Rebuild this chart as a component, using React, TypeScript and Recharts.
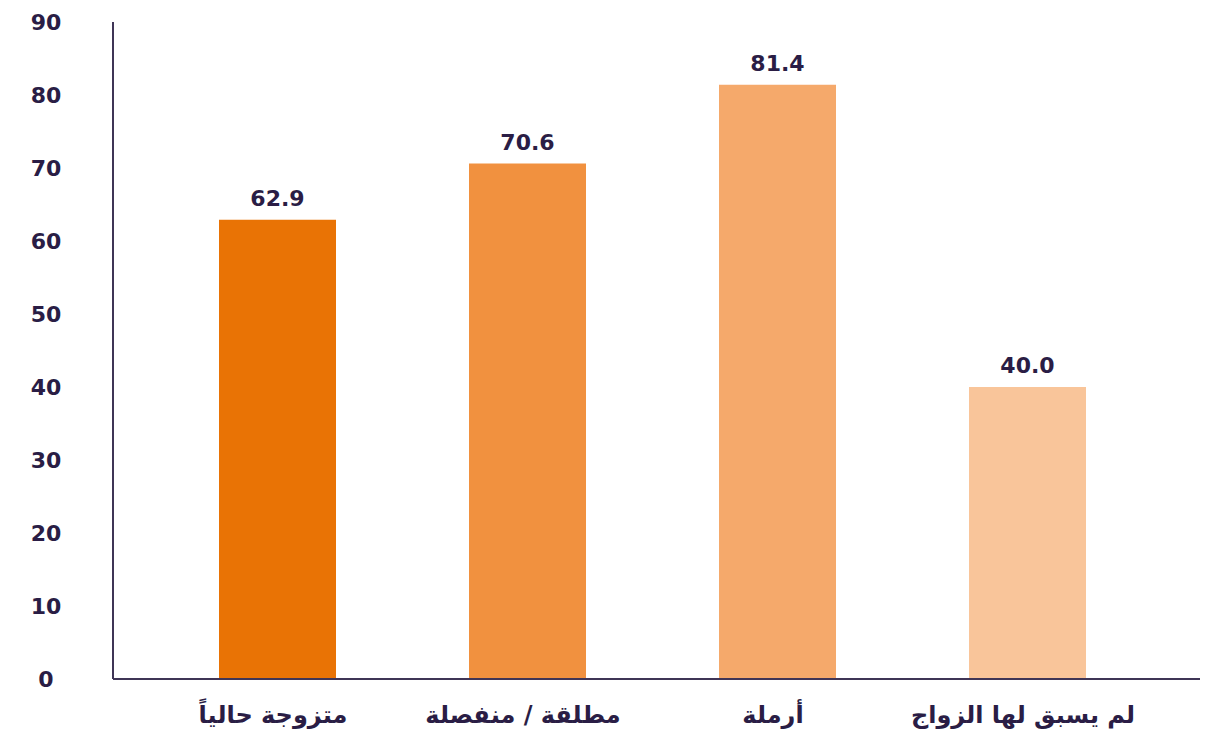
import { BarChart, Bar, XAxis, YAxis, Cell, LabelList } from 'recharts'

const categories = ['متزوجة حالياً', 'مطلقة / منفصلة', 'أرملة', 'لم يسبق لها الزواج']
const values = [62.9, 70.6, 81.4, 40.0]
const barColors = ['#E97305', '#F1913F', '#F5A96B', '#F9C59A']
const yTicks = [0, 10, 20, 30, 40, 50, 60, 70, 80, 90]

const data = categories.map((name, i) => ({ name, value: values[i] }))

const ink = '#2A1D45'
const font = '"DejaVu Sans", sans-serif'

function YTick({ y, payload }: any) {
  return (
    <text
      x={46}
      y={y}
      dy={8}
      textAnchor="middle"
      fill={ink}
      fontFamily={font}
      fontWeight="bold"
      fontSize={22}
    >
      {payload.value}
    </text>
  )
}

function XTick({ x, y, payload }: any) {
  return (
    <text
      x={x - 4}
      y={y}
      dy={36}
      textAnchor="middle"
      fill={ink}
      fontFamily={font}
      fontWeight="bold"
      fontSize={24}
    >
      {payload.value}
    </text>
  )
}

export default function App() {
  return (
    <div style={{ position: 'absolute', left: 0, top: 0, background: '#fff' }}>
      <BarChart
        width={1214}
        height={740}
        data={data}
        margin={{ top: 22, right: 14, left: 0, bottom: 0 }}
      >
        <XAxis
          dataKey="name"
          height={61}
          tickLine={false}
          axisLine={{ stroke: '#3F3556', strokeWidth: 2 }}
          padding={{ left: 39, right: 48 }}
          tick={<XTick />}
          interval={0}
        />
        <YAxis
          width={113}
          domain={[0, 90]}
          ticks={yTicks}
          tickLine={false}
          axisLine={{ stroke: '#3F3556', strokeWidth: 2 }}
          tick={<YTick />}
          interval={0}
        />
        <Bar dataKey="value" barSize={117} isAnimationActive={false}>
          {data.map((d, i) => (
            <Cell key={d.name} fill={barColors[i]} />
          ))}
          <LabelList
            dataKey="value"
            position="top"
            offset={14}
            formatter={(v: any) => Number(v).toFixed(1)}
            fill={ink}
            fontFamily={font}
            fontWeight="bold"
            fontSize={22}
          />
        </Bar>
      </BarChart>
    </div>
  )
}
